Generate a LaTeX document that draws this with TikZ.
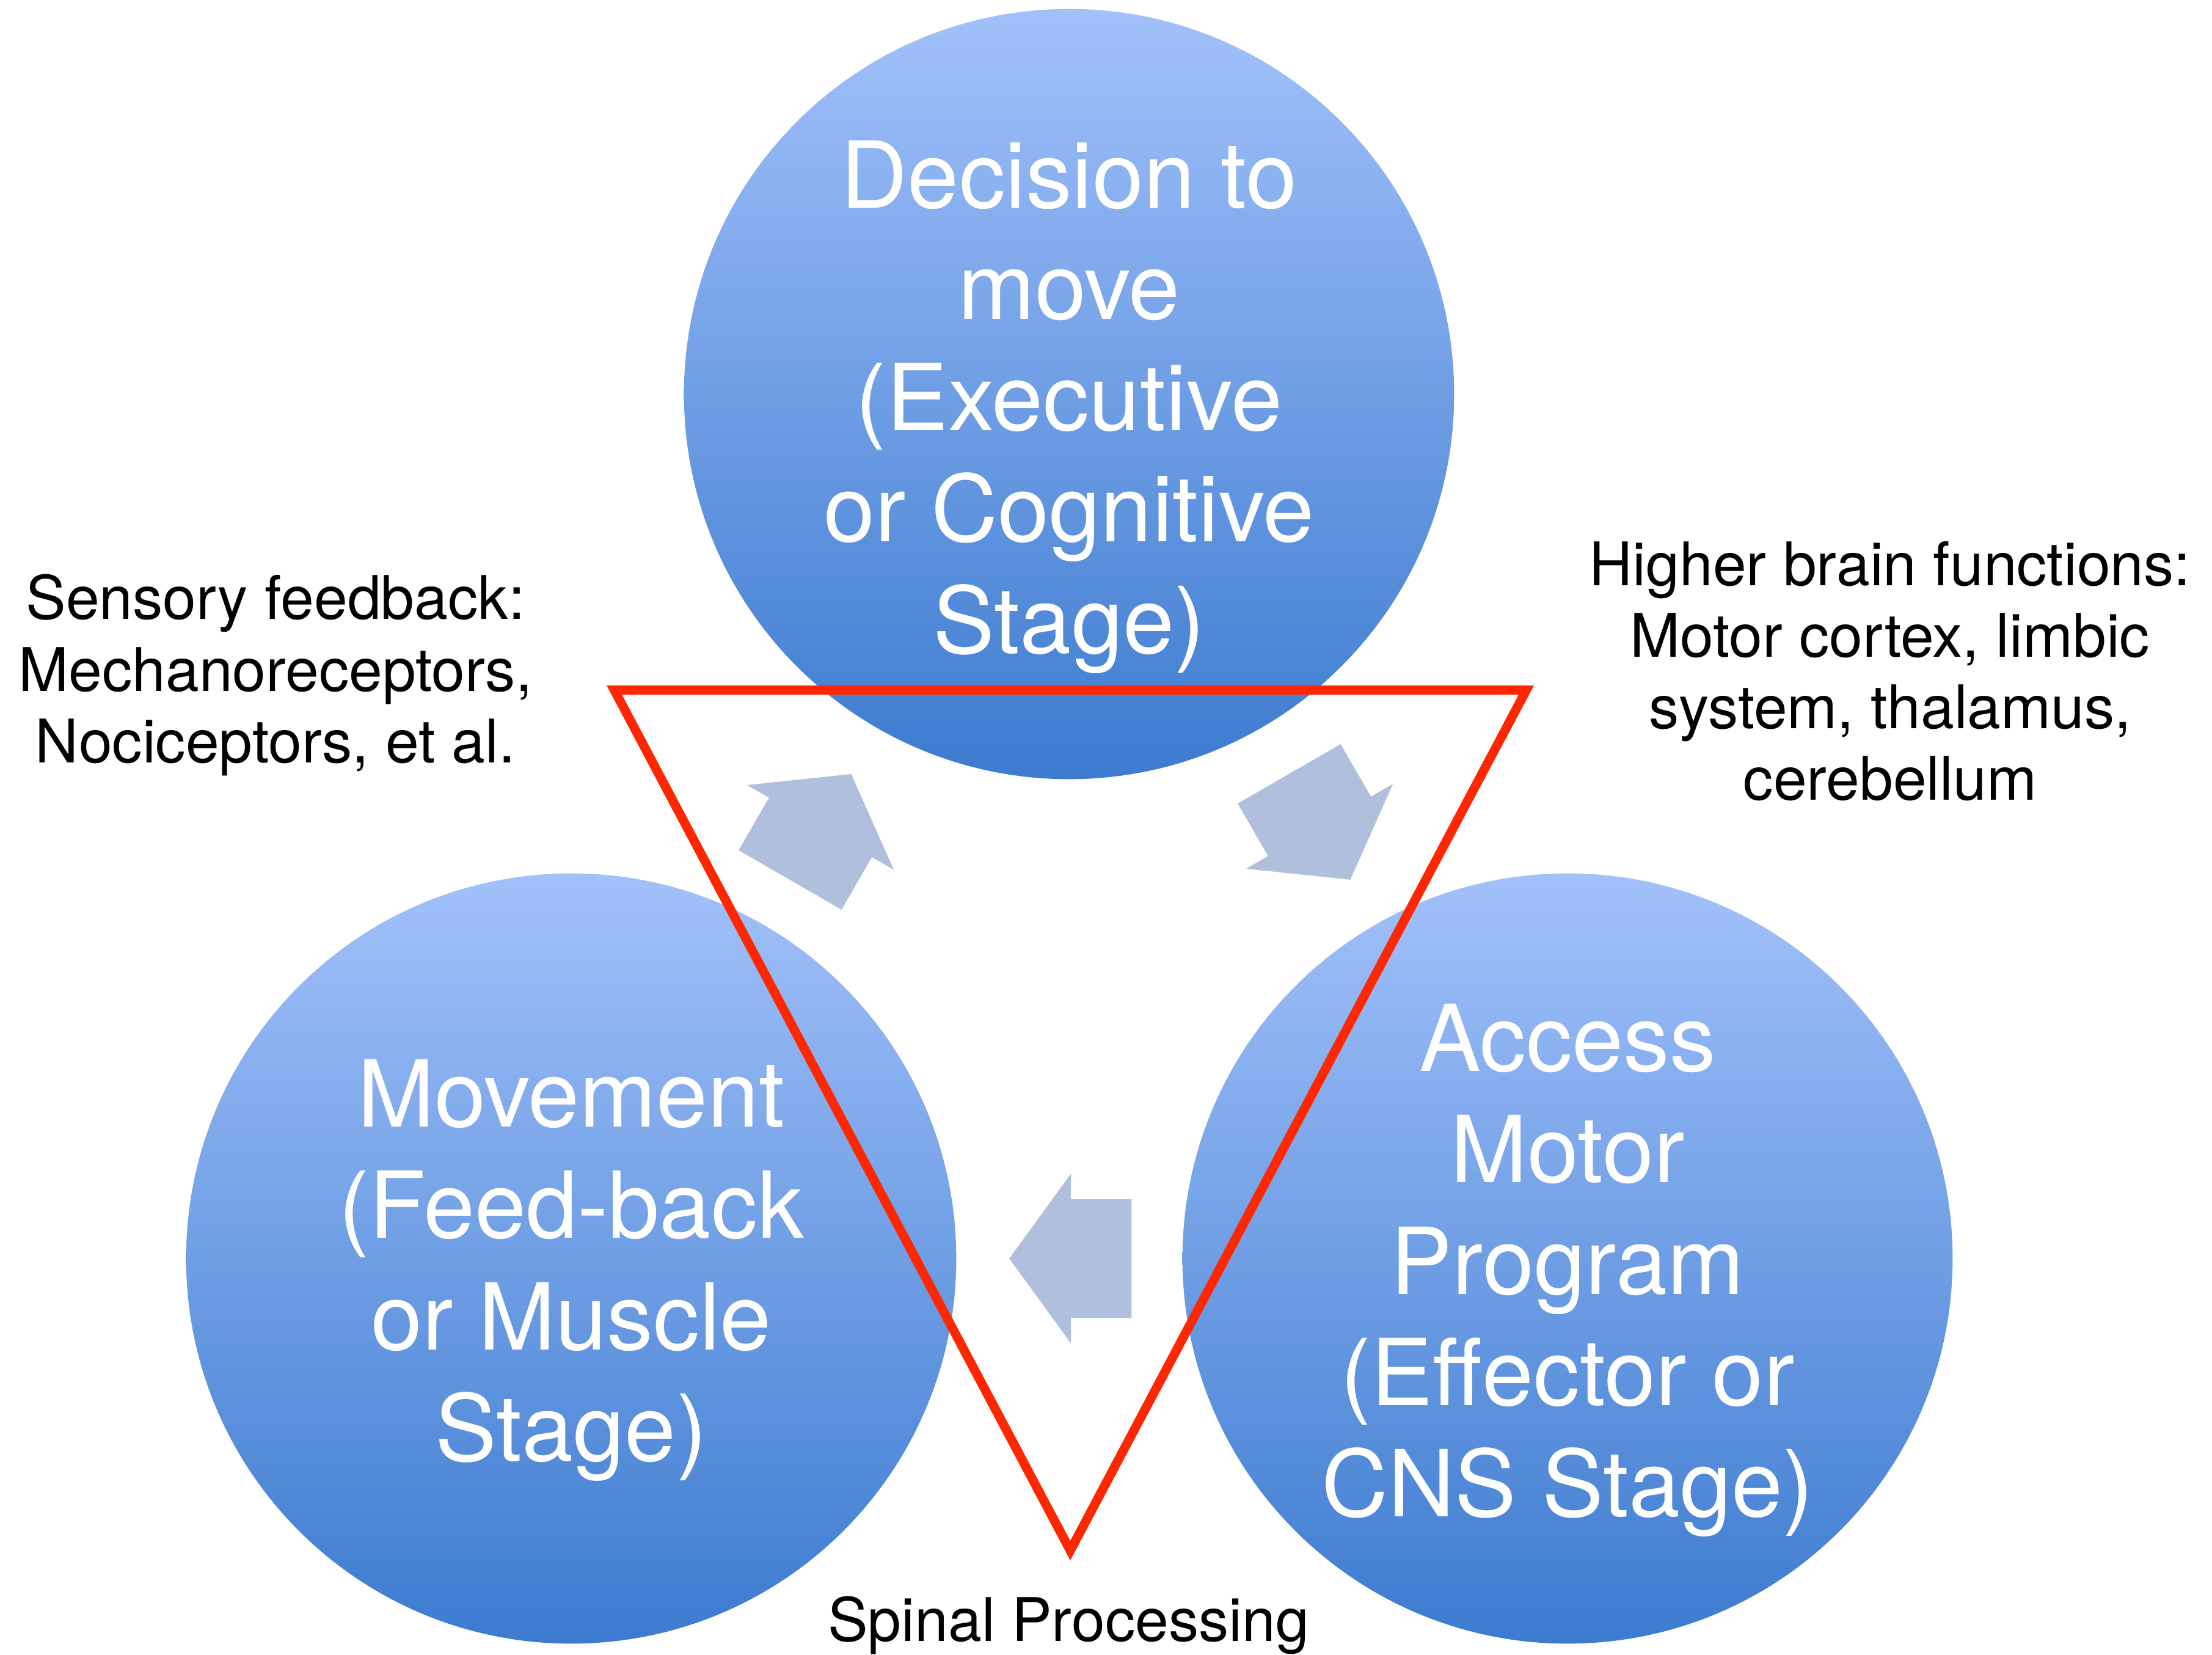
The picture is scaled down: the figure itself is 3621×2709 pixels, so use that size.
\documentclass[tikz,border=0pt]{standalone}
\usepackage{fontspec}
\setmainfont{TeX Gyre Heros}
\usetikzlibrary{shapes.arrows}
\definecolor{stagetop}{RGB}{162,193,250}
\definecolor{stagebottom}{RGB}{60,123,207}
\definecolor{flowgrey}{RGB}{176,192,220}
\definecolor{spinalred}{RGB}{255,38,0}
\tikzset{
  stage/.style={circle,minimum size=12.6cm,inner sep=0pt,top color=stagetop,bottom color=stagebottom},
  stagetext/.style={text=white,align=center,font=\fontsize{43}{51.8}\selectfont},
  flow/.style={single arrow,fill=flowgrey,draw=none,minimum height=2cm,inner xsep=0pt,inner ysep=0.965cm,single arrow head extend=0.415cm,single arrow tip angle=108,anchor=tail},
  note/.style={align=center,font=\fontsize{28}{33.3}\selectfont}
}
\begin{document}
\begin{tikzpicture}[x=0.01cm,y=-0.01cm]
    \useasboundingbox (0,0) rectangle (3621,2709);
    \node[stage] (decide) at (1750,645) {};
    \node[stage] (motor) at (2566,2060) {};
    \node[stage] (movement) at (935,2060) {};
    \node[stagetext] (decidetext) at ([yshift=-6pt]decide.center) {Decision to\\move\\(Executive\\or Cognitive\\Stage)};
    \node[stagetext] (motortext) at ([yshift=-5.5pt]motor.center) {Access\\Motor\\Program\\(Effector or\\CNS Stage)};
    \node[stagetext] (movementtext) at ([yshift=-5.5pt]movement.center) {Movement\\(Feed-back\\or Muscle\\Stage)};
    \node[flow,rotate=-60] (toMotor) at (2110,1266) {};
    \node[flow,rotate=180] (toMovement) at (1853,2060) {};
    \node[flow,rotate=60] (toDecide) at (1293,1441) {};
    \draw[spinalred,line width=0.15cm] (1005.5,1129.5) -- (2498.5,1129.5) -- (1752,2538) -- cycle;
    \node[note] (sensory) at (451,1105) {Sensory feedback:\\Mechanoreceptors,\\Nociceptors, et al.};
    \node[note] (higher) at (3094,1099) {Higher brain functions:\\Motor cortex, limbic\\system, thalamus,\\cerebellum};
    \node[note] (spinal) at (1749,2660) {Spinal Processing};
\end{tikzpicture}
\end{document}
